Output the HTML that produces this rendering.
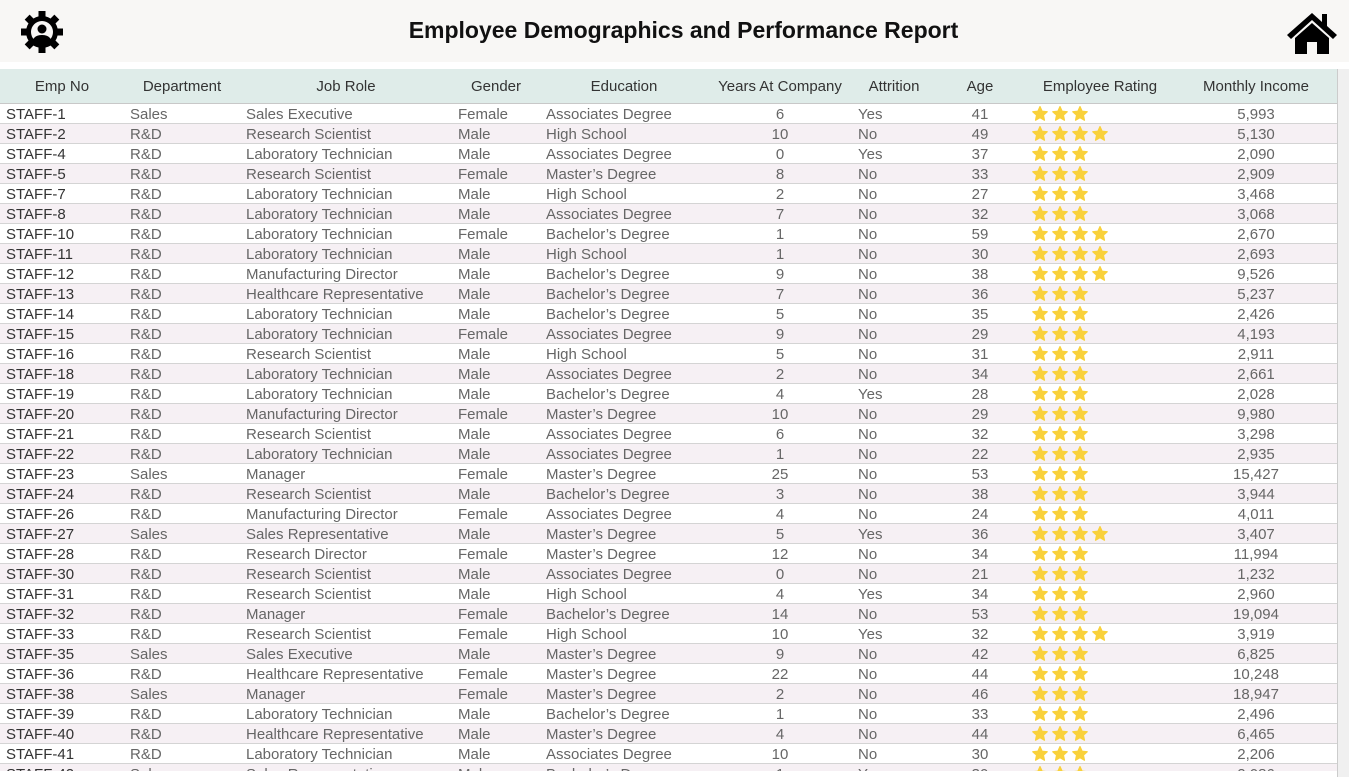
<!DOCTYPE html>
<html><head><meta charset="utf-8">
<style>
html,body{margin:0;width:1349px;height:777px;overflow:hidden}
body{background:#fff;font-family:"Liberation Sans",sans-serif;position:relative}
#hdr{position:absolute;left:0;top:0;width:1349px;height:62px;background:#f8f7f5}
#title{position:absolute;left:0;width:1367px;top:17px;text-align:center;font-weight:bold;font-size:23px;color:#111}
#thead{position:absolute;left:0;top:69px;width:1337px;height:34px;background:#dfece9;border-bottom:1px solid #c8c8c8}
.th{position:absolute;top:9px;font-size:15px;color:#333;transform:translateX(-50%);white-space:nowrap}
.row{position:absolute;left:0;width:1337px;height:19px;border-bottom:1px solid #d4d4d4}
.c{position:absolute;top:2px;font-size:15px;color:#666;white-space:nowrap}
.ctr{transform:translateX(-50%)}
#sb{position:absolute;left:1337px;top:69px;width:11px;height:708px;background:#f0f0f0;border-left:1px solid #ccc}
</style></head><body>
<div id="hdr">
<svg style="position:absolute;left:20px;top:10px" width="44" height="44" viewBox="0 0 44 44">
<g fill="#000"><circle cx="22" cy="22" r="16"/>
<rect x="18.5" y="1" width="7" height="8"/><rect x="18.5" y="35" width="7" height="8"/><rect x="1" y="18.5" width="8" height="7"/><rect x="35" y="18.5" width="8" height="7"/>
<rect x="18.5" y="1" width="7" height="8" transform="rotate(45 22 22)"/><rect x="18.5" y="35" width="7" height="8" transform="rotate(45 22 22)"/><rect x="1" y="18.5" width="8" height="7" transform="rotate(45 22 22)"/><rect x="35" y="18.5" width="8" height="7" transform="rotate(45 22 22)"/></g>
<circle cx="22" cy="22" r="11" fill="#f8f7f5"/><circle cx="22" cy="19" r="4.5" fill="#000"/><path d="M12 35 Q12 25 22 25 Q32 25 32 35 Z" fill="#000"/></svg>
<div id="title">Employee Demographics and Performance Report</div>
<svg style="position:absolute;left:1286px;top:11px" width="52" height="44" viewBox="0 0 52 44">
<path d="M26 2 L1 24 L5 28 L26 9 L47 28 L51 24 L41 15 L41 3 L36 3 L36 11 Z" fill="#000"/><path d="M9 27 L26 12 L43 27 L43 43 L31 43 L31 31 L21 31 L21 43 L9 43 Z" fill="#000"/></svg>
</div>
<div id="thead"></div>
<div id="rows"></div>
<div id="sb"></div>
<script>
const empNo=["STAFF-1","STAFF-2","STAFF-4","STAFF-5","STAFF-7","STAFF-8","STAFF-10","STAFF-11","STAFF-12","STAFF-13","STAFF-14","STAFF-15","STAFF-16","STAFF-18","STAFF-19","STAFF-20","STAFF-21","STAFF-22","STAFF-23","STAFF-24","STAFF-26","STAFF-27","STAFF-28","STAFF-30","STAFF-31","STAFF-32","STAFF-33","STAFF-35","STAFF-36","STAFF-38","STAFF-39","STAFF-40","STAFF-41","STAFF-42"];
const dept=["Sales","R&D","R&D","R&D","R&D","R&D","R&D","R&D","R&D","R&D","R&D","R&D","R&D","R&D","R&D","R&D","R&D","R&D","Sales","R&D","R&D","Sales","R&D","R&D","R&D","R&D","R&D","Sales","R&D","Sales","R&D","R&D","R&D","Sales"];
const role=["Sales Executive","Research Scientist","Laboratory Technician","Research Scientist","Laboratory Technician","Laboratory Technician","Laboratory Technician","Laboratory Technician","Manufacturing Director","Healthcare Representative","Laboratory Technician","Laboratory Technician","Research Scientist","Laboratory Technician","Laboratory Technician","Manufacturing Director","Research Scientist","Laboratory Technician","Manager","Research Scientist","Manufacturing Director","Sales Representative","Research Director","Research Scientist","Research Scientist","Manager","Research Scientist","Sales Executive","Healthcare Representative","Manager","Laboratory Technician","Healthcare Representative","Laboratory Technician","Sales Representative"];
const gender=["Female","Male","Male","Female","Male","Male","Female","Male","Male","Male","Male","Female","Male","Male","Male","Female","Male","Male","Female","Male","Female","Male","Female","Male","Male","Female","Female","Male","Female","Female","Male","Male","Male","Male"];
const edu=["Associates Degree","High School","Associates Degree","Master’s Degree","High School","Associates Degree","Bachelor’s Degree","High School","Bachelor’s Degree","Bachelor’s Degree","Bachelor’s Degree","Associates Degree","High School","Associates Degree","Bachelor’s Degree","Master’s Degree","Associates Degree","Associates Degree","Master’s Degree","Bachelor’s Degree","Associates Degree","Master’s Degree","Master’s Degree","Associates Degree","High School","Bachelor’s Degree","High School","Master’s Degree","Master’s Degree","Master’s Degree","Bachelor’s Degree","Master’s Degree","Associates Degree","Bachelor’s Degree"];
const years=[6,10,0,8,2,7,1,1,9,7,5,9,5,2,4,10,6,1,25,3,4,5,12,0,4,14,10,9,22,2,1,4,10,1];
const attr=["Yes","No","Yes","No","No","No","No","No","No","No","No","No","No","No","Yes","No","No","No","No","No","No","Yes","No","No","Yes","No","Yes","No","No","No","No","No","No","Yes"];
const age=[41,49,37,33,27,32,59,30,38,36,35,29,31,34,28,29,32,22,53,38,24,36,34,21,34,53,32,42,44,46,33,44,30,30];
const rating=[3,4,3,3,3,3,4,4,4,3,3,3,3,3,3,3,3,3,3,3,3,4,3,3,3,3,4,3,3,3,3,3,3,3];
const income=[5993,5130,2090,2909,3468,3068,2670,2693,9526,5237,2426,4193,2911,2661,2028,9980,3298,2935,15427,3944,4011,3407,11994,1232,2960,19094,3919,6825,10248,18947,2496,6465,2206,2086];
const headers=["Emp No","Department","Job Role","Gender","Education","Years At Company","Attrition","Age","Employee Rating","Monthly Income"];
const hx=[62,182,346,496,624,780,894,980,1100,1256];
const th=document.getElementById('thead');
headers.forEach((h,i)=>{const d=document.createElement('div');d.className='th';d.style.left=hx[i]+'px';d.textContent=h;


th.appendChild(d);});
const rows=document.getElementById('rows');
function cell(r,txt,x,center,color){const c=document.createElement('div');c.className='c'+(center?' ctr':'');c.style.left=x+'px';if(color)c.style.color=color;c.textContent=txt;


r.appendChild(c);}
const star='<svg width="16" height="15" viewBox="0 0 24 23"><path d="M12 1 L15.2 8 L23 8.8 L17.2 14 L18.8 21.8 L12 17.8 L5.2 21.8 L6.8 14 L1 8.8 L8.8 8 Z" fill="#f9d13b" stroke="#f9d13b" stroke-width="2" stroke-linejoin="round"/></svg>';
empNo.forEach((e,i)=>{const r=document.createElement('div');r.className='row';r.style.top=(104+i*20)+'px';r.style.background=i%2?'#f6f0f4':'#fff';


cell(r,e,6,false,'#333');cell(r,dept[i],130);cell(r,role[i],246);cell(r,gender[i],458);cell(r,edu[i],546);
cell(r,years[i],780,true);cell(r,attr[i],858);cell(r,age[i],980,true);
const s=document.createElement('div');s.className='c';s.style.left='1032px';s.style.top='2px';


let h='';for(let k=0;k<rating[i];k++)h+='<span style="display:inline-block;width:20px">'+star+'</span>';s.innerHTML=h;r.appendChild(s);
cell(r,income[i].toLocaleString('en-US'),1256,true);
rows.appendChild(r);});
const cover=document.createElement('div');cover.style.cssText='position:absolute;left:0;top:771px;width:1337px;height:6px;background:#fff';


document.body.appendChild(cover);
</script>
</body></html>
